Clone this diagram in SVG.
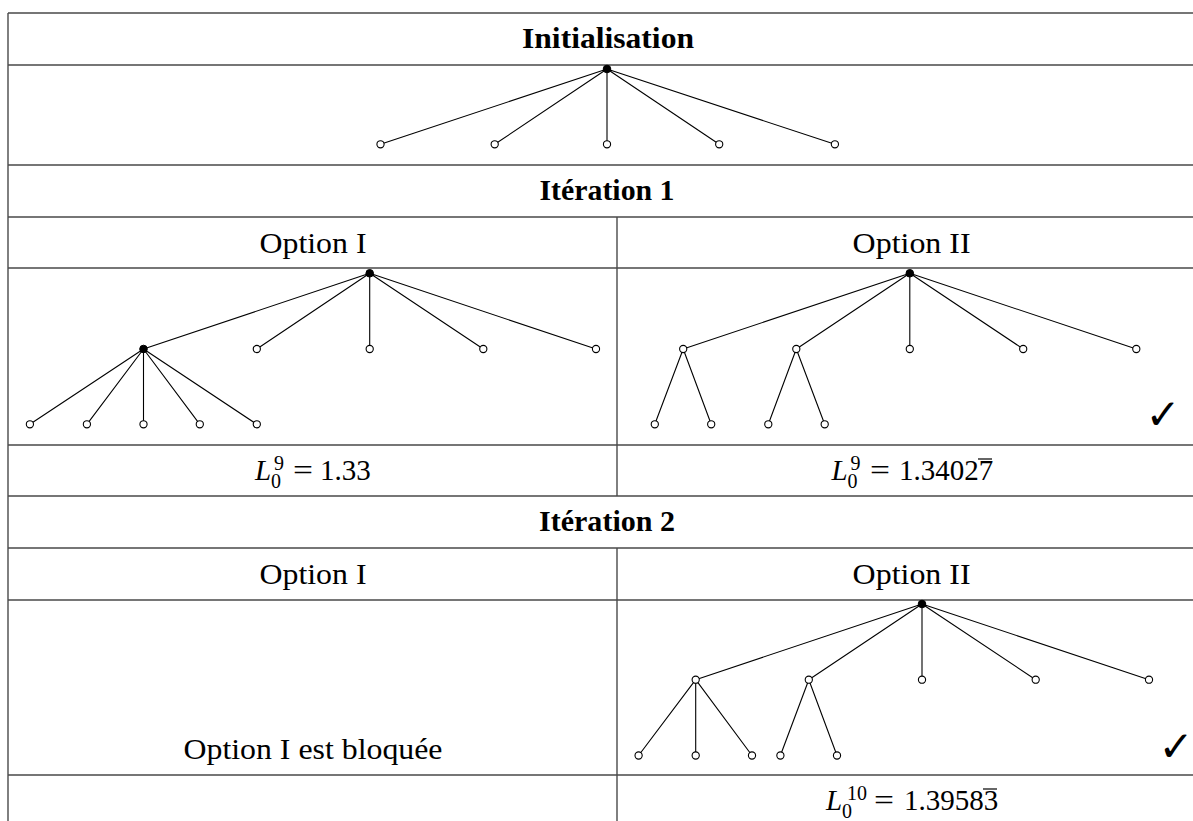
<svg xmlns="http://www.w3.org/2000/svg" width="1193" height="821" viewBox="0 0 1193 821">
<style>
.grid{stroke:#4a4a4a;stroke-width:1.4;fill:none}
.e{stroke:#000;stroke-width:1.1}
.h{fill:#fff;stroke:#000;stroke-width:1.1}
.f{fill:#000;stroke:#000;stroke-width:1}
.t{font-family:"Liberation Serif",serif;font-size:30px;fill:#000}
.b{font-family:"Liberation Serif",serif;font-size:30px;font-weight:bold;fill:#000}
.m{font-family:"Liberation Serif",serif;font-size:29px;fill:#000}
.mi{font-family:"Liberation Serif",serif;font-size:29px;font-style:italic;fill:#000}
.s{font-family:"Liberation Serif",serif;font-size:20px;fill:#000}
.ck{font-family:"DejaVu Sans",sans-serif;font-size:42px;fill:#000}
.ov{stroke:#000;stroke-width:1.2}
</style>
<rect width="1193" height="821" fill="#fff"/>
<g id="table">
<path class="grid" d="M8,13H1193M8,65H1193M8,165H1193M8,217H1193M8,268H1193M8,445H1193M8,496H1193M8,548H1193M8,600H1193M8,775H1193M8,13V821M617,217V496M617,548V821"/>
</g>
<g id="labels">
<text class="b" x="608" y="48" text-anchor="middle" textLength="172" lengthAdjust="spacingAndGlyphs">Initialisation</text>
<text class="b" x="607" y="200" text-anchor="middle" textLength="135" lengthAdjust="spacingAndGlyphs">Itération 1</text>
<text class="b" x="607" y="531" text-anchor="middle" textLength="136" lengthAdjust="spacingAndGlyphs">Itération 2</text>
<text class="t" x="313" y="253" text-anchor="middle" textLength="107" lengthAdjust="spacingAndGlyphs">Option I</text>
<text class="t" x="911.6" y="253" text-anchor="middle" textLength="118" lengthAdjust="spacingAndGlyphs">Option II</text>
<text class="t" x="313" y="584" text-anchor="middle" textLength="107" lengthAdjust="spacingAndGlyphs">Option I</text>
<text class="t" x="911.6" y="584" text-anchor="middle" textLength="118" lengthAdjust="spacingAndGlyphs">Option II</text>
<text class="t" x="313" y="759" text-anchor="middle" textLength="259" lengthAdjust="spacingAndGlyphs">Option I est bloquée</text>
</g>
<g id="value-1a">
<text class="mi" x="255" y="480">L</text>
<text class="s" x="274" y="470">9</text>
<text class="s" x="271" y="488">0</text>
<text class="m" x="293" y="480" textLength="20" lengthAdjust="spacingAndGlyphs">=</text>
<text class="m" x="320" y="480">1.33</text>
</g>
<g id="value-1b">
<text class="mi" x="831.5" y="480">L</text>
<text class="s" x="850.5" y="470">9</text>
<text class="s" x="847.5" y="488">0</text>
<text class="m" x="870" y="480" textLength="20" lengthAdjust="spacingAndGlyphs">=</text>
<text class="m" x="899" y="480">1.34027</text>
<line class="ov" x1="978" y1="459" x2="992" y2="459"/>
</g>
<g id="value-2b">
<text class="mi" x="826" y="810">L</text>
<text class="s" x="847" y="800">10</text>
<text class="s" x="842" y="818">0</text>
<text class="m" x="874" y="810" textLength="20" lengthAdjust="spacingAndGlyphs">=</text>
<text class="m" x="904" y="810">1.39583</text>
<line class="ov" x1="983" y1="789" x2="997" y2="789"/>
</g>
<g id="connectors">
<path class="e" d="M607,69L380.5,144.3M607,69L494.7,144.3M607,69L607,144.3M607,69L719.2,144.3M607,69L834.9,144.3"/>
<path class="e" d="M369.7,273.3L143.5,349M369.7,273.3L256.8,349M369.7,273.3L369.7,349M369.7,273.3L483.3,349M369.7,273.3L596,349"/>
<path class="e" d="M143.5,349L29.9,424.3M143.5,349L86.9,424.3M143.5,349L143.5,424.3M143.5,349L199.8,424.3M143.5,349L256.8,424.3"/>
<path class="e" d="M909.8,273.3L683.2,349M909.8,273.3L796.3,349M909.8,273.3L909.8,349M909.8,273.3L1023.2,349M909.8,273.3L1136.3,349"/>
<path class="e" d="M683.2,349L654.8,424.3M683.2,349L711.2,424.3M796.3,349L768.3,424.3M796.3,349L824.7,424.3"/>
<path class="e" d="M922,604L695.7,679.7M922,604L808.8,679.7M922,604L922,679.7M922,604L1035.7,679.7M922,604L1149,679.7"/>
<path class="e" d="M695.7,679.7L638.6,755.5M695.7,679.7L695.7,755.5M695.7,679.7L752,755.5M808.8,679.7L780.4,755.5M808.8,679.7L837,755.5"/>
</g>
<g id="tree-init">
<circle class="f" cx="607" cy="69" r="3.8"/>
<circle class="h" cx="380.5" cy="144.3" r="3.6"/>
<circle class="h" cx="494.7" cy="144.3" r="3.6"/>
<circle class="h" cx="607" cy="144.3" r="3.6"/>
<circle class="h" cx="719.2" cy="144.3" r="3.6"/>
<circle class="h" cx="834.9" cy="144.3" r="3.6"/>
</g>
<g id="tree-1a">
<circle class="f" cx="369.7" cy="273.3" r="3.8"/>
<circle class="f" cx="143.5" cy="349" r="3.8"/>
<circle class="h" cx="256.8" cy="349" r="3.6"/>
<circle class="h" cx="369.7" cy="349" r="3.6"/>
<circle class="h" cx="483.3" cy="349" r="3.6"/>
<circle class="h" cx="596" cy="349" r="3.6"/>
<circle class="h" cx="29.9" cy="424.3" r="3.6"/>
<circle class="h" cx="86.9" cy="424.3" r="3.6"/>
<circle class="h" cx="143.5" cy="424.3" r="3.6"/>
<circle class="h" cx="199.8" cy="424.3" r="3.6"/>
<circle class="h" cx="256.8" cy="424.3" r="3.6"/>
</g>
<g id="tree-1b">
<circle class="f" cx="909.8" cy="273.3" r="3.8"/>
<circle class="h" cx="683.2" cy="349" r="3.6"/>
<circle class="h" cx="796.3" cy="349" r="3.6"/>
<circle class="h" cx="909.8" cy="349" r="3.6"/>
<circle class="h" cx="1023.2" cy="349" r="3.6"/>
<circle class="h" cx="1136.3" cy="349" r="3.6"/>
<circle class="h" cx="654.8" cy="424.3" r="3.6"/>
<circle class="h" cx="711.2" cy="424.3" r="3.6"/>
<circle class="h" cx="768.3" cy="424.3" r="3.6"/>
<circle class="h" cx="824.7" cy="424.3" r="3.6"/>
<text class="ck" x="1163" y="429" text-anchor="middle">✓</text>
</g>
<g id="tree-2b">
<circle class="f" cx="922" cy="604" r="3.8"/>
<circle class="h" cx="695.7" cy="679.7" r="3.6"/>
<circle class="h" cx="808.8" cy="679.7" r="3.6"/>
<circle class="h" cx="922" cy="679.7" r="3.6"/>
<circle class="h" cx="1035.7" cy="679.7" r="3.6"/>
<circle class="h" cx="1149" cy="679.7" r="3.6"/>
<circle class="h" cx="638.6" cy="755.5" r="3.6"/>
<circle class="h" cx="695.7" cy="755.5" r="3.6"/>
<circle class="h" cx="752" cy="755.5" r="3.6"/>
<circle class="h" cx="780.4" cy="755.5" r="3.6"/>
<circle class="h" cx="837" cy="755.5" r="3.6"/>
<text class="ck" x="1176" y="761" text-anchor="middle">✓</text>
</g>
</svg>
